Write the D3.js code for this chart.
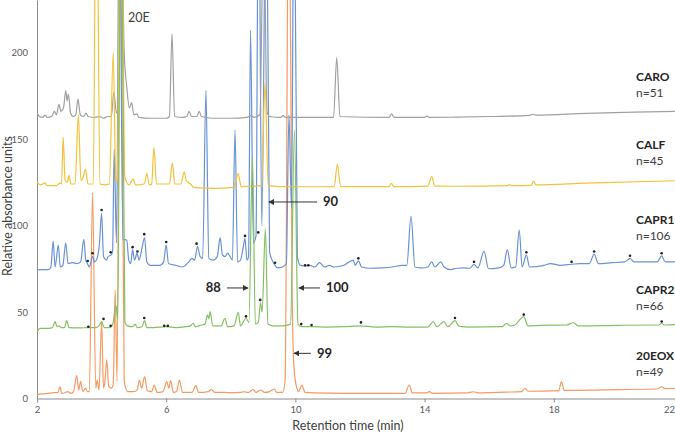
<!doctype html>
<html lang="en">
<head>
<meta charset="utf-8">
<title>Chromatograms</title>
<script src="https://d3js.org/d3.v7.min.js"></script>
<style>
body { margin: 0; background: #fff; }
svg { display: block; }
text { font-family: Lato, 'Open Sans', sans-serif; fill: #404040; }
.axis .tick text { font-size: 9.5px; fill: #595959; }
.axis path, .axis line { stroke: #8c8c8c; }
.trace { fill: none; stroke-width: 1.2px; stroke-linejoin: round; }
.name { font-size: 12px; font-weight: 700; fill: #262626; }
.count { font-size: 12px; fill: #404040; }
.ann { font-size: 13px; font-weight: 700; fill: #262626; }
.label { font-size: 12.5px; fill: #404040; }
</style>
</head>
<body>
<svg width="675" height="433"></svg>
<script>
// sample names and number of peaks
const sampleNames = ['CARO', 'CALF', 'CAPR1', 'CAPR2', '20EOX'];
const sampleCounts = ['n=51', 'n=45', 'n=106', 'n=66', 'n=49'];
const sampleColors = ['#a0a0a0', '#f4c13a', '#6a92d4', '#84c064', '#f59a62'];

const xTicks = [2, 6, 10, 14, 18, 22];
const yTicks = [0, 50, 100, 150, 200];

// [retention time (min), absorbance]
const caro = [[2.00,165],[2.08,163],[2.18,162.5],[2.25,164],[2.32,162.5],[2.45,163],[2.54,166],[2.60,164],[2.68,170],[2.74,166],[2.82,168],[2.89,178],[2.93,172],[2.97,176],[3.04,165],[3.12,163],[3.20,164],[3.27,173],[3.34,164],[3.44,163],[3.52,165],[3.58,163],[3.8,162.5],[3.95,163],[4.05,162],[4.2,163],[4.30,163],[4.38,177],[4.46,165],[4.52,170],[4.60,300],[4.70,200],[4.78,180],[4.86,168],[4.93,171],[5.00,164],[5.09,164.5],[5.15,162.5],[5.5,162],[6.0,162],[6.10,163],[6.18,211],[6.26,163],[6.5,162.5],[6.64,163],[6.71,166],[6.78,163],[6.95,163],[7.02,166],[7.09,163],[7.4,162],[8.0,162],[8.5,162.5],[8.63,163.5],[8.72,162.5],[8.9,164],[9.02,280],[9.12,166],[9.2,163],[9.55,162.5],[9.62,163.5],[9.7,162.5],[11.18,162.5],[11.28,197],[11.38,163],[12.9,162.5],[12.98,164.5],[13.06,162.5],[14.0,162.5],[14.07,163.2],[14.14,162.5],[15,162.6],[16,163],[17.25,163.7],[17.35,164.3],[17.45,163.8],[19,164.8],[20.5,165.5],[22,166]];

const calf = [[2.00,125.3],[2.1,123.5],[2.25,124.5],[2.32,123],[2.6,123],[2.72,124.5],[2.76,124],[2.81,151],[2.87,126],[2.94,125],[2.99,129],[3.05,124],[3.18,124],[3.28,164],[3.36,126],[3.43,128],[3.50,132.5],[3.58,124],[3.74,124],[3.84,330],[3.95,124],[4.1,123.5],[4.24,124],[4.36,200],[4.44,125],[4.48,126],[4.6,330],[4.72,128],[4.85,123.5],[4.98,127],[5.05,123.5],[5.32,124],[5.40,130],[5.48,123.5],[5.55,124],[5.62,145],[5.70,124],[6.1,124],[6.19,136],[6.27,124],[6.45,124],[6.56,131],[6.62,126],[6.75,124],[6.85,122],[7.5,121.5],[8.1,122],[8.23,130],[8.32,122.5],[8.95,123],[9.06,182],[9.16,123],[9.5,122.5],[10.5,122.4],[11.2,122.5],[11.3,135.4],[11.4,122.5],[12.9,122.5],[12.97,124.4],[13.05,122.5],[14.1,122.8],[14.22,128.2],[14.32,122.8],[15,122.7],[16.55,123],[16.64,123.6],[16.72,123],[17.3,123.2],[17.37,125.7],[17.45,123.5],[19,124.5],[22,126]];

const capr1 = [[2.00,74.3],[2.2,74.5],[2.36,74.5],[2.43,76],[2.50,91],[2.56,76],[2.66,88.7],[2.72,76],[2.80,77],[2.89,90],[2.96,78],[3.1,78.5],[3.23,78],[3.35,79],[3.45,92],[3.51,80],[3.56,78],[3.62,76],[3.72,82],[3.78,79],[3.86,81],[3.93,88.7],[4.0,107],[4.06,82],[4.15,80],[4.2,82],[4.3,83],[4.34,85],[4.39,144],[4.46,90],[4.55,300],[4.66,92],[4.78,91.6],[4.84,80],[4.90,78],[4.96,86],[5.02,80],[5.1,84],[5.16,80],[5.25,87],[5.33,93],[5.40,79],[5.5,77],[5.8,77],[5.92,79],[6.0,88.7],[6.07,78],[6.3,77],[6.5,76],[6.7,79],[6.8,81],[6.88,80],[6.97,88],[7.05,82],[7.13,81],[7.23,178],[7.32,81],[7.45,80],[7.58,82],[7.67,93],[7.74,83],[7.82,82],[7.9,84],[7.98,82],[8.05,80],[8.13,155],[8.21,79],[8.3,80],[8.39,88],[8.44,92.6],[8.5,80],[8.55,82],[8.61,213],[8.70,90],[8.78,94],[8.86,320],[8.96,100],[9.1,320],[9.2,85],[9.28,80],[9.37,77],[9.45,75.5],[9.6,76],[9.72,78],[9.8,164],[9.88,110],[9.96,320],[10.06,82],[10.15,77],[10.3,76.5],[10.45,77],[10.6,76],[10.75,78.5],[10.9,76],[11.05,77],[11.2,76],[11.5,77],[11.79,80],[11.85,77],[11.95,79.5],[12.05,76],[12.3,75.3],[12.7,75.5],[13.0,76],[13.3,77],[13.45,77],[13.58,105.5],[13.7,76],[13.9,75.5],[14.1,76],[14.22,79],[14.32,76],[14.5,79],[14.6,76],[14.8,74.5],[15.0,75.3],[15.2,75.5],[15.4,75.3],[15.53,77.6],[15.65,75.5],[15.84,85],[15.98,75],[16.3,75.5],[16.45,77],[16.56,86],[16.68,75.5],[16.82,76],[16.93,97.4],[17.02,76],[17.15,83],[17.25,76],[17.7,77],[17.9,78],[18.2,77],[18.55,77.6],[18.8,78],[19.1,78],[19.25,83.5],[19.38,78],[19.8,78.5],[20.2,79],[20.36,81],[20.48,79],[21.0,79],[21.2,79],[21.34,82.4],[21.45,79],[22,79]];

const capr2 = [[2.00,38.6],[2.1,40.5],[2.3,40.5],[2.48,41],[2.56,44.4],[2.62,41.5],[2.68,42],[2.75,41],[2.85,41],[2.92,45],[2.99,41],[3.3,40.8],[3.56,41],[3.8,41],[3.92,42],[4.0,44.4],[4.08,41],[4.2,41],[4.3,41.5],[4.36,44],[4.44,54],[4.5,46],[4.6,320],[4.72,44],[4.8,42],[4.95,41.5],[5.04,43],[5.1,41],[5.25,41.5],[5.33,45],[5.40,41],[5.6,41],[6.0,41.5],[6.3,41],[6.6,41.5],[6.75,42],[6.84,43.5],[6.9,41.5],[7.0,42],[7.1,42.5],[7.2,43],[7.28,48.3],[7.32,46],[7.36,50.2],[7.44,42],[7.7,42],[7.82,46.4],[7.9,41.5],[8.1,42],[8.23,49.8],[8.3,42],[8.47,46.4],[8.56,44],[8.67,140],[8.76,43],[8.85,44],[8.92,55.4],[8.97,50],[9.07,98],[9.15,43],[9.3,42],[9.6,42],[9.85,43],[9.97,155],[10.08,43],[10.2,41.5],[10.5,41.5],[11,41.3],[11.5,41.5],[12.0,42],[12.5,41.3],[13.0,41.5],[13.5,41.3],[14.1,41.3],[14.27,44.4],[14.38,41.5],[14.6,44.4],[14.72,41.5],[14.94,45],[15.05,42],[15.15,41.5],[15.35,41.3],[16.4,41.5],[16.54,43.5],[16.65,42],[16.8,42.5],[16.92,45],[17.07,47.3],[17.2,42],[17.6,42.3],[18.4,42.5],[18.6,43.8],[18.75,42],[20,42.3],[21.25,42.5],[21.34,43.5],[21.42,42.5],[22,43]];

const eox = [[2.00,2],[2.08,2.5],[2.2,2.7],[2.55,3.4],[2.65,3.5],[2.71,6.8],[2.77,3],[2.85,3.2],[2.95,4],[3.05,3],[3.13,4],[3.23,13.2],[3.29,5],[3.35,9.7],[3.42,4],[3.5,6],[3.56,4],[3.62,4],[3.72,119],[3.82,6],[3.86,10.7],[3.92,5],[4.0,44.4],[4.06,6],[4.1,9.5],[4.16,22.3],[4.22,7],[4.3,6],[4.36,8],[4.42,62.7],[4.48,10],[4.57,320],[4.7,10],[4.8,4],[5.0,4],[5.1,5],[5.17,10.7],[5.24,6],[5.33,12.6],[5.42,4.5],[5.55,4],[5.63,7.8],[5.72,3.5],[5.9,4],[6.02,9.7],[6.08,6],[6.14,10.3],[6.22,3.5],[6.32,4],[6.41,10.7],[6.5,3.5],[6.8,3.5],[6.92,7.6],[7.0,3.5],[7.3,4],[7.4,5.3],[7.5,3.5],[7.8,3.5],[8.0,3.4],[8.3,3.5],[8.4,3.9],[8.55,3.5],[8.69,5.3],[8.78,3.5],[8.92,4.9],[9.05,3.5],[9.2,4],[9.35,5.5],[9.42,3.5],[9.6,3.5],[9.68,10],[9.8,330],[9.9,60],[9.95,20],[10.02,8],[10.1,4],[10.2,7.8],[10.3,3.5],[10.6,3.2],[11.5,3],[12.5,3],[13.4,3],[13.52,7.8],[13.62,3.2],[14.05,3.2],[14.15,4],[14.25,3],[15.3,3.2],[15.51,3.9],[15.65,3.3],[16.5,3.7],[17.0,4],[17.11,5.9],[17.2,4.2],[18.15,4.5],[18.24,9.7],[18.32,4.7],[19.5,5],[21.2,5.5],[21.34,6.8],[21.45,5.7],[22,5.9]];

// small asterisk marks above peaks
const capr1Marks = [[3.57,79.5],[3.72,84],[4.0,109],[4.28,84.5],[4.96,87.5],[5.11,85],[5.32,95],[6.0,90.5],[6.94,89.5],[8.44,94],[8.85,96],[9.37,78.5],[10.3,77],[10.4,77],[11.95,81],[15.53,79],[17.15,84.5],[18.55,79],[19.25,85],[20.36,82.5],[21.34,84]];
const capr2Marks = [[3.59,41.5],[4.06,46],[4.28,42],[5.32,46.5],[5.94,42],[6.05,42],[8.47,47.5],[8.91,57],[10.18,43],[10.5,42.5],[12.03,44],[14.94,46.5],[17.07,48.5],[21.34,44.5]];

// arrow annotations: label, tail t, tip t, value
const annLabels = ['90', '88', '100', '99'];
const annTail = [10.67, 7.88, 10.76, 10.48];
const annTip = [9.18, 8.53, 10.11, 9.96];
const annValue = [113.6, 63.9, 63.9, 26.1];

const series = [caro, calf, capr1, capr2, eox];

const svg = d3.select('svg');
const plotLeft = 37, plotRight = 683, plotTop = 0, plotBottom = 398.5;

const x = d3.scaleLinear().domain([2, 22]).range([plotLeft, plotRight]);
const y = d3.scaleLinear().domain([0, 230.35]).range([plotBottom, plotTop]);

const defs = svg.append('defs');
defs.append('clipPath')
  .attr('id', 'plot')
  .append('rect')
  .attr('x', plotLeft).attr('y', plotTop)
  .attr('width', 675 - plotLeft).attr('height', plotBottom - plotTop);

defs.append('marker')
  .attr('id', 'head')
  .attr('viewBox', '0 0 8 8')
  .attr('refX', 7).attr('refY', 4)
  .attr('markerWidth', 6).attr('markerHeight', 6)
  .attr('markerUnits', 'userSpaceOnUse')
  .attr('orient', 'auto')
  .append('path')
  .attr('d', 'M0,0 L8,4 L0,8 Z')
  .attr('fill', '#333');

// axes
const xAxis = svg.append('g')
  .attr('class', 'axis')
  .attr('transform', `translate(0, ${plotBottom})`)
  .call(d3.axisBottom(x).tickValues(xTicks).tickSize(4).tickSizeOuter(0).tickPadding(4));

// the last label sits at the cropped right edge, pull it inside
xAxis.selectAll('.tick')
  .filter(d => d === 22)
  .select('text')
  .attr('x', -14);

svg.append('g')
  .attr('class', 'axis')
  .attr('transform', `translate(${plotLeft}, 0)`)
  .call(d3.axisLeft(y).tickValues(yTicks).tickSize(0).tickSizeOuter(0).tickPadding(9));

// traces
const line = d3.line()
  .x(d => x(d[0]))
  .y(d => y(d[1]))
  .curve(d3.curveMonotoneX);

const plot = svg.append('g').attr('clip-path', 'url(#plot)');
const drawOrder = [4, 2, 0, 1, 3];
drawOrder.forEach(i => {
  plot.append('path')
    .attr('class', 'trace')
    .attr('d', line(series[i]))
    .attr('stroke', sampleColors[i]);
});

plot.selectAll('.mark')
  .data(capr1Marks.concat(capr2Marks))
  .join('circle')
  .attr('class', 'mark')
  .attr('cx', d => x(d[0]))
  .attr('cy', d => y(d[1]))
  .attr('r', 1.3)
  .attr('fill', '#222');

// sample labels on the right
const labelValue = [186, 146.5, 103.2, 62.7, 24.6];
sampleNames.forEach((s, i) => {
  const yy = y(labelValue[i]);
  svg.append('text').attr('class', 'name')
    .attr('x', 636).attr('y', yy + 4).text(s);
  svg.append('text').attr('class', 'count')
    .attr('x', 636).attr('y', yy + 20).text(sampleCounts[i]);
});

// 20E label
svg.append('text')
  .attr('class', 'label')
  .attr('x', x(4.82))
  .attr('y', y(220) + 4.5)
  .text('20E');

// arrows
annLabels.forEach((lab, i) => {
  const yy = y(annValue[i]);
  svg.append('line')
    .attr('x1', x(annTail[i])).attr('y1', yy)
    .attr('x2', x(annTip[i])).attr('y2', yy)
    .attr('stroke', '#333').attr('stroke-width', 1)
    .attr('marker-end', 'url(#head)');
  const pointsRight = annTip[i] > annTail[i];
  svg.append('text')
    .attr('class', 'ann')
    .attr('x', pointsRight ? x(annTail[i]) - 6 : x(annTail[i]) + 6)
    .attr('y', yy + 4.5)
    .attr('text-anchor', pointsRight ? 'end' : 'start')
    .text(lab);
});

// axis titles
svg.append('text')
  .attr('class', 'label')
  .attr('x', 348)
  .attr('y', 430)
  .attr('text-anchor', 'middle')
  .text('Retention time (min)');

svg.append('text')
  .attr('class', 'label')
  .attr('transform', 'translate(12, 206) rotate(-90)')
  .attr('text-anchor', 'middle')
  .text('Relative absorbance units');
</script>
</body>
</html>
